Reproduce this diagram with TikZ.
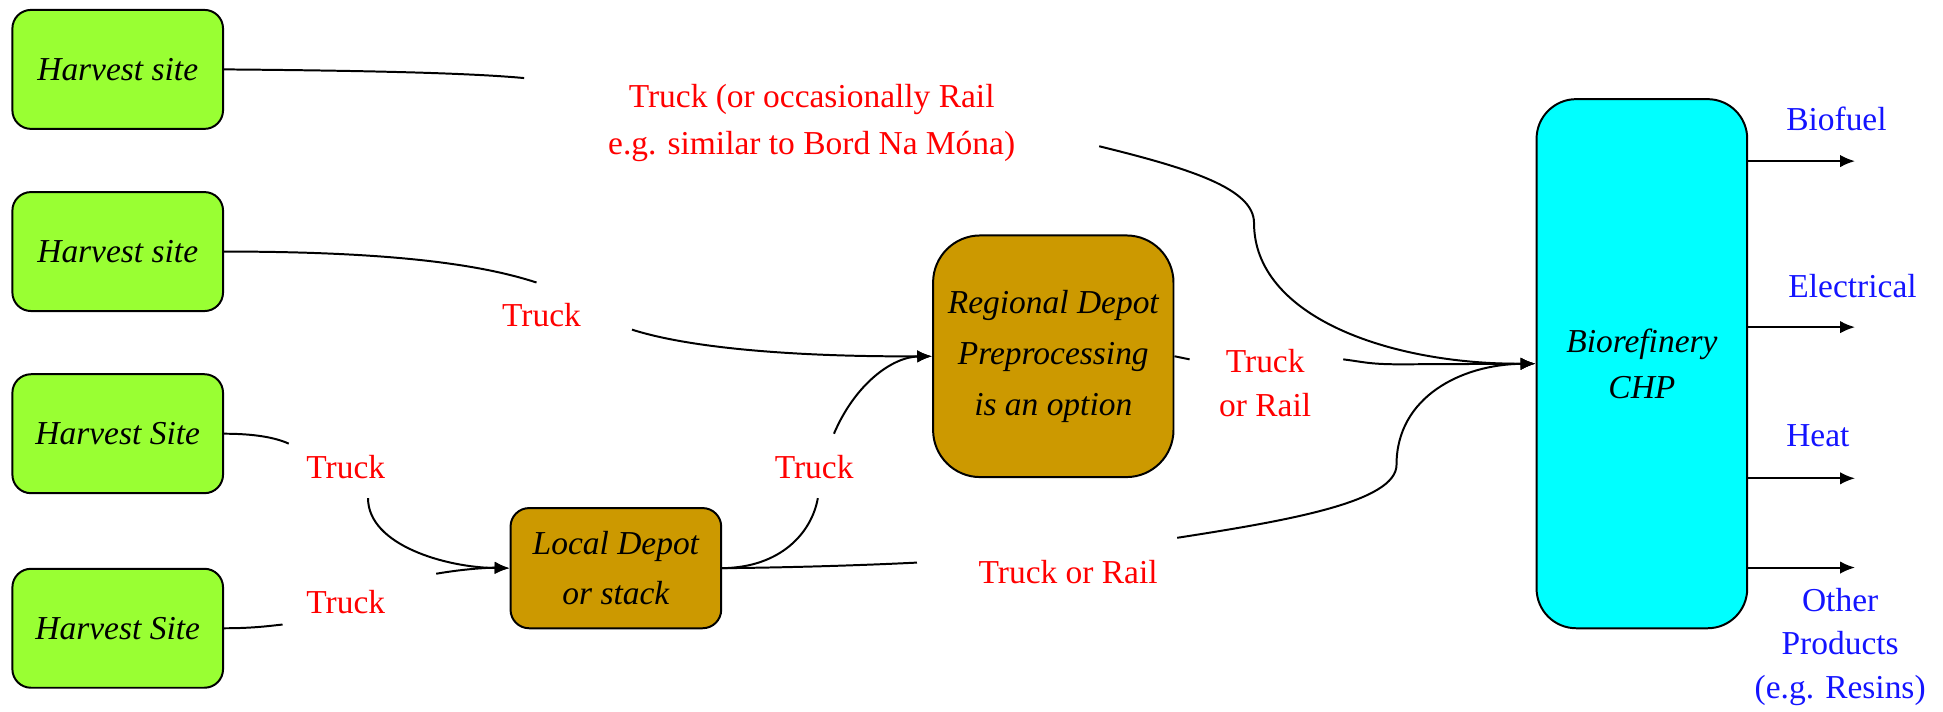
\documentclass[tikz,border=0pt]{standalone}
\usepackage{fontspec}
\setmainfont{Liberation Serif}
\usetikzlibrary{arrows.meta}
\definecolor{sitegreen}{RGB}{153,255,51}
\definecolor{depotgold}{RGB}{204,153,0}
\definecolor{plantcyan}{RGB}{0,255,255}
\definecolor{modered}{RGB}{255,0,0}
\definecolor{prodblue}{RGB}{20,20,255}
\tikzset{
  sitebox/.style={draw=black, line width=0.8pt, fill=sitegreen, rounded corners=7.5pt,
    minimum width=85pt, minimum height=48pt, inner sep=0pt,
    font=\fontsize{13.5}{19}\selectfont\itshape},
  depotbox/.style={draw=black, line width=0.8pt, fill=depotgold, inner sep=0pt, align=center},
  plantbox/.style={draw=black, line width=0.8pt, fill=plantcyan, inner sep=0pt, align=center,
    rounded corners=16pt, minimum width=85pt, minimum height=213.5pt},
  modelbl/.style={text=modered, align=center, inner sep=0pt},
  prodlbl/.style={text=prodblue, align=center, inner sep=0pt},
  link/.style={line width=0.8pt},
  arr/.style={line width=0.8pt, -{Latex[length=6pt,width=5pt]}},
}
\begin{document}
\begin{tikzpicture}[x=0.5pt, y=-0.5pt]
\useasboundingbox (0,0) rectangle (1568,574);

% harvest sites
\node[sitebox] (h1) at (95,56) {Harvest site};
\node[sitebox] (h2) at (95,203) {Harvest site};
\node[sitebox] (h3) at (95,350) {Harvest Site};
\node[sitebox] (h4) at (95,507) {Harvest Site};

% depots
\node[depotbox, rounded corners=7.5pt, minimum width=85pt, minimum height=48.5pt,
  font=\fontsize{13.5}{20}\selectfont\itshape] (loc) at (497,458.5) {Local Depot\\or stack};
\node[depotbox, rounded corners=19pt, minimum width=97pt, minimum height=97.5pt,
  font=\fontsize{13.5}{20.5}\selectfont\itshape] (reg) at (850,287.5) {Regional Depot\\Preprocessing\\is an option};

% biorefinery
\node[plantbox, font=\fontsize{13.5}{18.5}\selectfont\itshape] (bio) at (1325,293.5) {Biorefinery\\CHP};

% transport mode labels
\node[modelbl, font=\fontsize{13.5}{19}\selectfont] (t1) at (655,99) {Truck (or occasionally Rail\\e.g. similar to Bord Na Móna)};
\node[modelbl, font=\fontsize{13.5}{19}\selectfont] (t2) at (437,254) {Truck};
\node[modelbl, font=\fontsize{13.5}{19}\selectfont] (t3) at (279,377) {Truck};
\node[modelbl, font=\fontsize{13.5}{19}\selectfont] (t4) at (279,486) {Truck};
\node[modelbl, font=\fontsize{13.5}{19}\selectfont] (t5) at (657,377) {Truck};
\node[modelbl, font=\fontsize{13.5}{18}\selectfont] (t6) at (1021,309) {Truck\\or Rail};
\node[modelbl, font=\fontsize{13.5}{19}\selectfont] (t7) at (862,462) {Truck or Rail};

% product labels
\node[prodlbl, font=\fontsize{13.5}{17.5}\selectfont] (p1) at (1482,96) {Biofuel};
\node[prodlbl, font=\fontsize{13.5}{17.5}\selectfont] (p2) at (1495,231) {Electrical};
\node[prodlbl, font=\fontsize{13.5}{17.5}\selectfont] (p3) at (1467,352) {Heat};
\node[prodlbl, font=\fontsize{13.5}{17.5}\selectfont] (p4) at (1485,522) {Other\\Products\\(e.g. Resins)};

% ends of the line pieces that stop short of a label
\coordinate (a1) at (423,63);   \coordinate (a2) at (887,118);
\coordinate (b1) at (433,228);  \coordinate (b2) at (510,266);
\coordinate (c1) at (233,358);  \coordinate (c2) at (297,402);
\coordinate (d1) at (228,504);  \coordinate (d2) at (352,463);
\coordinate (e1) at (660,402);  \coordinate (e2) at (673,350);
\coordinate (f1) at (740,454);  \coordinate (f2) at (950,434);
\coordinate (g1) at (960,290);  \coordinate (g2) at (1084,290);

% harvest site 1 -> biorefinery
\draw[link] (h1.east) .. controls (300,57) and (380,59) .. (a1);
\draw[arr] (a2) .. controls (960,136) and (1012,152) .. (1012,180)
  .. controls (1012,255) and (1120,294) .. (bio.west);

% harvest site 2 -> regional depot
\draw[link] (h2.east) .. controls (320,203) and (390,214) .. (b1);
\draw[arr] (b2) .. controls (560,282) and (650,288) .. (reg.west);

% harvest site 3 -> local depot
\draw[link] (h3.east) .. controls (205,350) and (222,353) .. (c1);
\draw[arr] (c2) .. controls (297,440) and (360,458) .. (loc.west);

% harvest site 4 -> local depot
\draw[link] (h4.east) .. controls (205,507) and (218,505) .. (d1);
\draw[arr] (d2) .. controls (375,459) and (395,458) .. (loc.west);

% local depot -> regional depot
\draw[link] (loc.east) .. controls (630,458) and (655,430) .. (e1);
\draw[arr] (e2) .. controls (690,310) and (720,288) .. (reg.west);

% local depot -> biorefinery
\draw[link] (loc.east) .. controls (640,458) and (700,456) .. (f1);
\draw[arr] (f2) .. controls (1040,420) and (1127,405) .. (1127,375)
  .. controls (1127,320) and (1180,294) .. (bio.west);

% regional depot -> biorefinery
\draw[link] (reg.east) -- (g1);
\draw[arr] (g2) .. controls (1100,292) and (1105,294) .. (1130,294) -- (bio.west);

% products
\coordinate (o1) at (1497,130);
\coordinate (o2) at (1497,264);
\coordinate (o3) at (1497,386);
\coordinate (o4) at (1497,458);
\draw[arr] (o1 -| bio.east) -- (o1);
\draw[arr] (o2 -| bio.east) -- (o2);
\draw[arr] (o3 -| bio.east) -- (o3);
\draw[arr] (o4 -| bio.east) -- (o4);
\end{tikzpicture}
\end{document}
